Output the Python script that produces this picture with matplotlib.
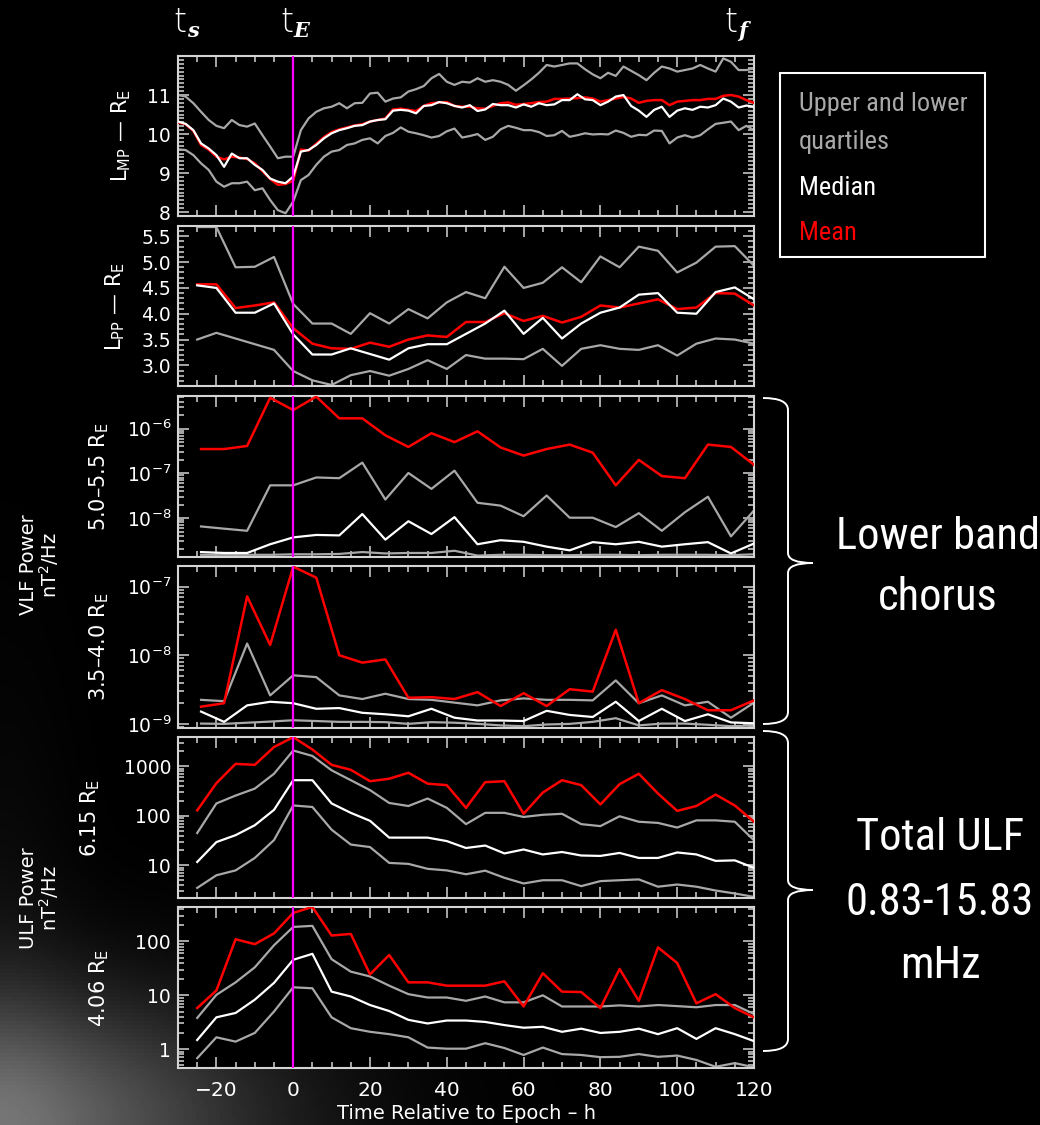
import numpy as np
import matplotlib
matplotlib.use('Agg')
import matplotlib.pyplot as plt
import matplotlib.ticker as mt
from matplotlib.patches import Rectangle, PathPatch
from matplotlib.path import Path
from matplotlib import font_manager as fm

# ---------------- data ----------------
# Panel 1: magnetopause location (2 h sampling, -30..120 h)
t_mp = np.arange(-30, 121, 2)
mp_upper = [11.00, 10.96, 10.79, 10.57, 10.36, 10.21, 10.15, 10.36, 10.23, 10.19, 10.27, 9.97, 9.68,
            9.38, 9.42, 9.42, 10.10, 10.40, 10.57, 10.66, 10.70, 10.79, 10.66, 10.79, 10.80, 11.04,
            11.06, 10.83, 10.91, 10.94, 11.09, 11.15, 11.23, 11.43, 11.54, 11.34, 11.26, 11.34, 11.32,
            11.43, 11.34, 11.38, 11.34, 11.26, 11.11, 11.25, 11.40, 11.57, 11.77, 11.73, 11.77,
            11.81, 11.81, 11.66, 11.53, 11.43, 11.57, 11.49, 11.73, 11.62, 11.51, 11.38, 11.57, 11.73,
            11.68, 11.60, 11.64, 11.68, 11.77, 11.68, 11.60, 11.94, 11.85, 11.64, 11.64, 11.68]
mp_median = [10.32, 10.26, 10.10, 9.76, 9.63, 9.46, 9.16, 9.50, 9.38, 9.38, 9.21, 9.08, 8.86, 8.78,
             8.74, 8.91, 9.55, 9.59, 9.72, 9.89, 10.02, 10.10, 10.15, 10.21, 10.23, 10.32,
             10.36, 10.38, 10.60, 10.62, 10.60, 10.53, 10.72, 10.74, 10.82, 10.79, 10.72, 10.68, 10.74,
             10.59, 10.63, 10.77, 10.74, 10.74, 10.68, 10.76, 10.70, 10.79, 10.74, 10.76, 10.87,
             10.87, 11.02, 10.89, 10.87, 10.74, 10.83, 10.96, 11.00, 10.72, 10.60, 10.44, 10.62, 10.70,
             10.44, 10.60, 10.66, 10.62, 10.70, 10.68, 10.74, 10.91, 10.83, 10.68, 10.73, 10.70]
mp_mean = [10.30, 10.25, 10.08, 9.72, 9.60, 9.42, 9.35, 9.42, 9.40, 9.36, 9.25, 9.05, 8.85, 8.70,
           8.72, 8.80, 9.60, 9.58, 9.75, 9.92, 10.05, 10.12, 10.17, 10.22, 10.25, 10.32,
           10.36, 10.40, 10.63, 10.65, 10.62, 10.59, 10.72, 10.79, 10.81, 10.82, 10.72, 10.70, 10.70,
           10.66, 10.65, 10.72, 10.79, 10.81, 10.75, 10.77, 10.79, 10.82, 10.83, 10.90, 10.90,
           10.91, 10.92, 10.94, 10.91, 10.83, 10.87, 10.91, 10.95, 10.91, 10.80, 10.85, 10.87, 10.87,
           10.74, 10.83, 10.85, 10.87, 10.87, 10.90, 10.90, 10.98, 11.00, 10.96, 10.87, 10.80]
mp_lower = [9.61, 9.59, 9.46, 9.25, 9.08, 8.78, 8.65, 8.74, 8.74, 8.78, 8.56, 8.61, 8.31, 8.05,
            7.97, 8.27, 8.82, 8.95, 9.21, 9.42, 9.55, 9.59, 9.72, 9.76, 9.85, 9.89,
            9.76, 9.95, 10.03, 10.17, 10.06, 10.02, 9.97, 9.91, 9.95, 10.07, 10.14, 9.91, 9.95,
            10.00, 9.85, 9.93, 10.12, 10.21, 10.16, 10.10, 10.10, 10.05, 9.95, 9.97, 10.08,
            9.93, 9.97, 10.02, 9.99, 10.00, 9.99, 10.09, 10.03, 9.93, 9.98, 9.97, 10.09, 10.08,
            9.76, 9.91, 9.97, 9.91, 9.97, 10.12, 10.26, 10.29, 10.32, 10.10, 10.21, 10.10]

# 5 h sampling (-25..120)
t5 = np.arange(-25, 121, 5)
pp_upper = [5.68, 5.68, 4.90, 4.91, 5.10, 4.19, 3.81, 3.81, 3.61, 4.01, 3.81, 4.09, 3.91, 4.22, 4.42,
            4.30, 4.91, 4.50, 4.60, 4.90, 4.61, 5.11, 4.90, 5.30, 5.22, 4.80, 4.99, 5.30, 5.31, 4.93]
pp_median = [4.55, 4.50, 4.02, 4.02, 4.20, 3.60, 3.21, 3.21, 3.33, 3.22, 3.11, 3.33, 3.41, 3.41, 3.61,
             3.81, 4.06, 3.61, 3.92, 3.52, 3.81, 4.02, 4.12, 4.37, 4.40, 4.02, 4.00, 4.42, 4.51, 4.28]
pp_mean = [4.57, 4.57, 4.11, 4.16, 4.22, 3.72, 3.42, 3.33, 3.32, 3.44, 3.36, 3.50, 3.58, 3.55, 3.84,
           3.84, 4.01, 3.86, 3.96, 3.83, 3.94, 4.16, 4.12, 4.20, 4.28, 4.09, 4.12, 4.40, 4.39, 4.16]
pp_lower = [3.50, 3.63, 3.52, 3.41, 3.30, 2.89, 2.71, 2.62, 2.81, 2.89, 2.80, 2.93, 3.10, 2.93, 3.20,
            3.13, 3.13, 3.12, 3.32, 2.99, 3.32, 3.39, 3.32, 3.30, 3.39, 3.19, 3.42, 3.52, 3.50, 3.42]

# 6 h sampling (-24..120) VLF chorus
t6 = np.arange(-24, 121, 6)
vlf55_mean = [3.5e-7, 3.5e-7, 4.1e-7, 4.9e-6, 2.6e-6, 5.2e-6, 1.7e-6, 1.7e-6, 7.1e-7, 3.9e-7, 7.9e-7,
              5.0e-7, 8.7e-7, 3.8e-7, 2.5e-7, 3.5e-7, 4.4e-7, 2.9e-7, 5.4e-8, 2.0e-7, 8.7e-8, 7.8e-8,
              4.4e-7, 3.9e-7, 1.55e-7]
vlf55_upper = [6.5e-9, 5.8e-9, 5.2e-9, 5.4e-8, 5.4e-8, 8.1e-8, 7.8e-8, 1.74e-7, 2.6e-8, 1.02e-7, 4.5e-8,
               1.15e-7, 2.2e-8, 1.9e-8, 1.1e-8, 3.2e-8, 1.02e-8, 1.02e-8, 6.3e-9, 1.29e-8, 5.2e-9,
               1.35e-8, 3.0e-8, 3.9e-9, 1.48e-8]
vlf55_median = [1.74e-9, 1.66e-9, 1.66e-9, 2.6e-9, 3.7e-9, 4.2e-9, 4.1e-9, 1.23e-8, 3.3e-9, 8.5e-9, 4.4e-9,
                1.05e-8, 2.6e-9, 3.2e-9, 2.95e-9, 2.3e-9, 1.9e-9, 2.9e-9, 2.6e-9, 2.95e-9, 2.3e-9,
                2.6e-9, 2.9e-9, 1.62e-9, 2.7e-9]
vlf55_lower = [1.51e-9, 1.51e-9, 1.51e-9, 1.51e-9, 1.55e-9, 1.55e-9, 1.58e-9, 1.74e-9, 1.62e-9, 1.66e-9,
               1.66e-9, 1.86e-9, 1.45e-9, 1.51e-9, 1.51e-9, 1.48e-9, 1.48e-9, 1.51e-9, 1.51e-9, 1.48e-9,
               1.51e-9, 1.51e-9, 1.51e-9, 1.48e-9, 1.55e-9]

vlf40_mean = [1.78e-9, 2.0e-9, 7.2e-8, 1.41e-8, 1.95e-7, 1.35e-7, 1.0e-8, 7.8e-9, 8.7e-9, 2.4e-9, 2.45e-9,
              2.3e-9, 2.9e-9, 1.82e-9, 2.8e-9, 1.82e-9, 3.2e-9, 2.95e-9, 2.35e-8, 2.0e-9, 3.1e-9, 2.3e-9,
              1.58e-9, 1.58e-9, 2.2e-9]
vlf40_upper = [2.24e-9, 2.14e-9, 1.48e-8, 2.6e-9, 5.1e-9, 4.8e-9, 2.6e-9, 2.3e-9, 2.75e-9, 2.3e-9, 2.24e-9,
               2.04e-9, 1.86e-9, 2.2e-9, 2.35e-9, 2.24e-9, 2.24e-9, 2.2e-9, 4.3e-9, 2.0e-9, 2.6e-9,
               1.86e-9, 2.1e-9, 1.23e-9, 2.04e-9]
vlf40_median = [1.51e-9, 1.07e-9, 1.86e-9, 2.1e-9, 2.0e-9, 1.66e-9, 1.7e-9, 1.45e-9, 1.38e-9, 1.29e-9,
                1.66e-9, 1.23e-9, 1.12e-9, 1.12e-9, 1.1e-9, 1.55e-9, 1.35e-9, 1.26e-9, 2.1e-9, 1.1e-9,
                1.66e-9, 1.1e-9, 1.38e-9, 1.05e-9, 1.02e-9]
vlf40_lower = [1.01e-9, 1.0e-9, 1.04e-9, 1.08e-9, 1.13e-9, 1.1e-9, 1.07e-9, 1.07e-9, 1.06e-9, 1.0e-9,
               1.06e-9, 1.04e-9, 1.0e-9, 9.5e-10, 9.25e-10, 9.8e-10, 1.0e-9, 1.07e-9, 1.21e-9, 9.5e-10,
               1.01e-9, 1.01e-9, 9.7e-10, 9.25e-10, 9.5e-10]

# ULF power (5 h sampling)
ulf615_mean = [129, 457, 1122, 1072, 2455, 3890, 2188, 1072, 851, 501, 562, 741, 447, 417, 145, 479, 501,
               110, 295, 525, 417, 170, 437, 708, 282, 126, 158, 269, 162, 76]
ulf615_upper = [45, 178, 257, 355, 708, 2089, 1622, 832, 525, 331, 182, 158, 224, 145, 68, 115, 115, 95,
                105, 110, 68, 62, 98, 76, 72, 58, 81, 81, 76, 32]
ulf615_median = [11.7, 29.5, 40.7, 64.6, 132, 525, 525, 178, 115, 79.4, 36.3, 36.3, 36.3, 30.9, 22.4, 25.1,
                 17.4, 20.9, 16.6, 18.6, 15.8, 15.5, 17.8, 14.1, 14.1, 18.2, 16.6, 12.3, 12.6, 8.9]
ulf615_lower = [3.5, 6.3, 7.9, 14.1, 32.4, 162, 151, 52.5, 26.3, 23.4, 11.2, 10.7, 8.5, 7.9, 6.6, 7.8, 5.6,
                4.3, 5.0, 5.0, 3.8, 4.8, 5.0, 5.2, 3.7, 4.1, 3.7, 3.1, 2.7, 2.3]

ulf406_mean = [5.8, 12.3, 110, 89, 141, 339, 437, 129, 138, 24.5, 56, 17.4, 17.4, 15.1, 15.1, 15.1, 18.2,
               6.2, 25.7, 11.7, 11.5, 5.8, 30.9, 7.9, 77.6, 39.8, 7.1, 10.5, 5.8, 3.9]
ulf406_upper = [3.8, 10.2, 17.4, 33.1, 85, 186, 195, 46.8, 27.5, 22.4, 15.1, 10.5, 9.1, 9.1, 7.9, 9.5, 7.4,
                7.4, 10.0, 6.2, 6.2, 6.2, 6.5, 6.2, 6.6, 6.3, 6.0, 6.6, 6.6, 4.5]
ulf406_median = [1.48, 3.9, 4.7, 8.3, 17.0, 45.7, 58.9, 11.7, 9.5, 6.6, 5.1, 3.5, 3.0, 3.4, 3.4, 3.2, 2.8,
                 2.5, 2.6, 2.1, 2.4, 2.0, 2.1, 2.4, 1.9, 2.45, 1.55, 2.45, 1.9, 1.41]
ulf406_lower = [0.68, 1.66, 1.38, 2.0, 5.0, 14.1, 13.5, 3.9, 2.45, 2.1, 1.9, 1.66, 1.07, 1.02, 1.02, 1.29,
                1.05, 0.78, 1.07, 0.81, 0.78, 0.71, 0.72, 0.81, 0.72, 0.76, 0.63, 0.47, 0.55, 0.46]

panel_labels = [r'L$_{\mathregular{MP}}$ — R$_{\mathregular{E}}$',
                r'L$_{\mathregular{PP}}$ — R$_{\mathregular{E}}$',
                r'5.0–5.5 R$_{\mathregular{E}}$',
                r'3.5–4.0 R$_{\mathregular{E}}$',
                r'6.15 R$_{\mathregular{E}}$',
                r'4.06 R$_{\mathregular{E}}$']
legend_lines = ['Upper and lower', 'quartiles', 'Median', 'Mean']
group_texts = [['Lower band', 'chorus'], ['Total ULF', '0.83-15.83', 'mHz']]

# ---------------- font for annotation text (condensed if available) ----------------
def pick_narrow():
    entries = fm.fontManager.ttflist
    names = {f.name for f in entries}
    for cand in ['Liberation Sans Narrow', 'Roboto Condensed', 'Open Sans Condensed',
                 'Noto Sans Condensed', 'Noto Sans Display Condensed']:
        if cand in names:
            return fm.FontProperties(family=cand), 1.0
    for fam in ['Noto Sans', 'Open Sans', 'Roboto']:
        for f in entries:
            if f.name == fam and str(f.stretch) in ('condensed', 'semi-condensed', '500', '600', '700') \
                    and f.style == 'normal' and f.weight in (400, 'normal', 'regular'):
                if 'ondens' in f.fname:
                    return fm.FontProperties(fname=f.fname), 1.0
    for f in entries:
        if 'ondensed' in f.fname and 'Bold' not in f.fname and 'Italic' not in f.fname \
                and ('Sans' in f.fname or 'Roboto' in f.fname):
            return fm.FontProperties(fname=f.fname), 1.0
    return fm.FontProperties(family=['Lato', 'DejaVu Sans']), 0.84

NARROW_FP, NSCALE = pick_narrow()

def nfp(size):
    fp = NARROW_FP.copy()
    fp.set_size(size * NSCALE)
    return fp

# ---------------- styling ----------------
W, H = 1040, 1125
GRAY = '#a8a8a8'
SPINE = '#d4d4d4'

def fx(px):
    return px / W

def fy(py):
    return 1 - py / H

fig = plt.figure(figsize=(W / 100, H / 100), dpi=100, facecolor='black')

# faint glow in lower-left corner (decorative background)
bg = fig.add_axes([0, 0, 1, 1], zorder=-10)
bg.set_axis_off()
yy, xx = np.mgrid[0:H:4, 0:W:4]
glow = (0.40 * np.exp(-((xx / 260.0) ** 2 + ((H - yy) / 130.0) ** 2))
        + 0.06 * np.exp(-((xx / 70.0) ** 2 + ((H - yy) / 380.0) ** 2)))
bg.imshow(glow, cmap='gray', vmin=0, vmax=1, extent=[0, W, H, 0], aspect='auto')
bg.set_xlim(0, W)
bg.set_ylim(H, 0)

panel_px = [(56, 216), (226, 386), (396, 557), (566, 728), (737, 898), (907, 1068)]
series = [
    (t_mp, mp_upper, mp_lower, mp_median, mp_mean),
    (t5, pp_upper, pp_lower, pp_median, pp_mean),
    (t6, vlf55_upper, vlf55_lower, vlf55_median, vlf55_mean),
    (t6, vlf40_upper, vlf40_lower, vlf40_median, vlf40_mean),
    (t5, ulf615_upper, ulf615_lower, ulf615_median, ulf615_mean),
    (t5, ulf406_upper, ulf406_lower, ulf406_median, ulf406_mean),
]
ylims = [(7.9, 12.0), (2.6, 5.7), (10 ** -8.87, 10 ** -5.27), (10 ** -9.06, 10 ** -6.70),
         (10 ** 0.34, 10 ** 3.593), (10 ** -0.35, 10 ** 2.64)]
label_x = [121, 115, 99, 99, 90, 99]

for i, (top, bot) in enumerate(panel_px):
    ax = fig.add_axes([fx(178), fy(bot), fx(754) - fx(178), (bot - top) / H])
    ax.set_facecolor('black')
    t, up, lo, med, mean = series[i]
    ax.plot(t, up, color=GRAY, lw=1.6, zorder=2)
    ax.plot(t, lo, color=GRAY, lw=1.6, zorder=2)
    ax.plot(t, mean, color='#ff0000', lw=1.8, zorder=3)
    ax.plot(t, med, color='white', lw=1.6, zorder=4)
    ax.axvline(0, color='#ff00ff', lw=1.6, zorder=5)
    ax.set_xlim(-30, 120)
    if i >= 2:
        ax.set_yscale('log')
        ax.yaxis.set_minor_locator(mt.LogLocator(base=10, subs=np.arange(2, 10)))
        ax.yaxis.set_minor_formatter(mt.NullFormatter())
        if i >= 4:
            ax.yaxis.set_major_formatter(mt.FuncFormatter(lambda v, p: f'{v:g}'))
        else:
            ax.yaxis.set_major_formatter(mt.LogFormatterSciNotation())
    elif i == 0:
        ax.yaxis.set_major_locator(mt.FixedLocator([8, 9, 10, 11]))
        ax.yaxis.set_minor_locator(mt.MultipleLocator(0.1))
    else:
        ax.yaxis.set_major_locator(mt.FixedLocator([3.0, 3.5, 4.0, 4.5, 5.0, 5.5]))
        ax.yaxis.set_major_formatter(mt.FormatStrFormatter('%.1f'))
        ax.yaxis.set_minor_locator(mt.MultipleLocator(0.1))
    ax.set_ylim(*ylims[i])
    ax.xaxis.set_major_locator(mt.MultipleLocator(20))
    ax.xaxis.set_minor_locator(mt.MultipleLocator(5))
    for s in ax.spines.values():
        s.set_color(SPINE)
        s.set_linewidth(1.5)
    ax.tick_params(which='both', direction='in', top=True, right=True, color=SPINE,
                   labelcolor='white', width=1.1)
    ax.tick_params(which='major', length=8, labelsize=13.5, pad=5)
    ax.tick_params(which='minor', length=4)
    if i < 5:
        ax.tick_params(axis='x', labelbottom=False)
    else:
        ax.tick_params(axis='x', labelsize=14.5, pad=9)
        ax.set_xlabel('Time Relative to Epoch – h', color='white', fontsize=14, labelpad=3)
    fig.text(fx(label_x[i]), fy((top + bot) / 2), panel_labels[i], rotation=90, color='white',
             fontsize=15, ha='center', va='center')

# outer group labels
fig.text(fx(40), fy(565), 'VLF Power\nnT$^2$/Hz', rotation=90, color='white', fontsize=14,
         ha='center', va='center', multialignment='center', linespacing=1.0)
fig.text(fx(40), fy(898), 'ULF Power\nnT$^2$/Hz', rotation=90, color='white', fontsize=14,
         ha='center', va='center', multialignment='center', linespacing=1.0)

# top time markers
for tx, sx, sub in [(180, 193, 's'), (287, 301, 'E'), (731, 743, 'f')]:
    fig.text(fx(tx), fy(32), 't', color='white', fontsize=24, ha='center', va='baseline',
             fontweight='light')
    fig.text(fx(sx), fy(37), sub, color='white', fontsize=15, ha='center', va='baseline',
             family='DejaVu Serif', style='italic', weight='bold')

# legend box
fig.add_artist(Rectangle((fx(780), fy(257)), fx(985) - fx(780), (257 - 73) / H,
                         transform=fig.transFigure, fill=False, ec='white', lw=1.5))
for txt, yc, col in zip(legend_lines, [104, 142, 188, 233], [GRAY, GRAY, 'white', '#ff0000']):
    fig.text(fx(799), fy(yc), txt, color=col, ha='left', va='center', fontproperties=nfp(19))

# braces
def brace(top, bot, mid, xl=763, xv=788, xt=813):
    pts = [(xl, top), (xv, top), (xv, top + 12), (xv, mid - 10), (xv, mid), (xt, mid),
           (xv, mid), (xv, mid + 10), (xv, bot - 12), (xv, bot), (xl, bot)]
    codes = [Path.MOVETO, Path.CURVE3, Path.CURVE3, Path.LINETO, Path.CURVE3, Path.CURVE3,
             Path.CURVE3, Path.CURVE3, Path.LINETO, Path.CURVE3, Path.CURVE3]
    verts = [(fx(x), fy(y)) for x, y in pts]
    fig.add_artist(PathPatch(Path(verts, codes), transform=fig.transFigure, fill=False,
                             ec='white', lw=1.4))

brace(398, 724, 563)
brace(731, 1051, 890)

for txt, yc in zip(group_texts[0], [537, 598]):
    fig.text(fx(938), fy(yc), txt, color='white', ha='center', va='center', fontproperties=nfp(32))
for txt, yc in zip(group_texts[1], [838, 903, 966]):
    fig.text(fx(940), fy(yc), txt, color='white', ha='center', va='center', fontproperties=nfp(32))

fig.savefig('out.png', dpi=100, facecolor='black')
